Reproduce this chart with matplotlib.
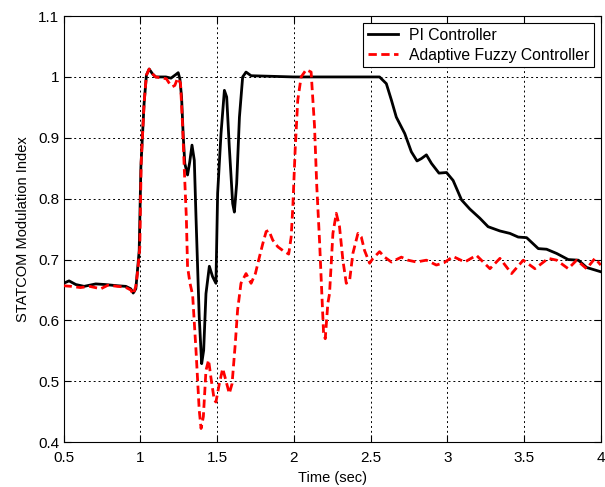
import matplotlib
matplotlib.use('Agg')
import matplotlib.pyplot as plt

plt.rcParams['font.family'] = ['Liberation Sans', 'DejaVu Sans']

# ----- data -----
t_pi = [0.5, 0.536, 0.58, 0.634, 0.71, 0.77, 0.851, 0.906, 0.938, 0.954,
        0.971, 0.982, 0.993, 1.004, 1.025, 1.04, 1.058, 1.08, 1.1, 1.167,
        1.2, 1.232, 1.247, 1.258, 1.269, 1.28, 1.29, 1.308, 1.322, 1.337,
        1.352, 1.363, 1.384, 1.40, 1.413, 1.428, 1.45, 1.471, 1.493, 1.504,
        1.526, 1.548, 1.563, 1.58, 1.602, 1.613, 1.628, 1.646, 1.667, 1.689,
        1.722, 2.0, 2.559, 2.603, 2.636, 2.668, 2.723, 2.766, 2.803, 2.832,
        2.864, 2.897, 2.946, 2.995, 3.038, 3.093, 3.147, 3.212, 3.266, 3.343,
        3.408, 3.462, 3.517, 3.593, 3.647, 3.713, 3.788, 3.854, 3.908, 4.0]
m_pi = [0.661, 0.665, 0.659, 0.656, 0.66, 0.659, 0.657, 0.656, 0.652, 0.645,
        0.652, 0.683, 0.715, 0.852, 0.957, 1.003, 1.013, 1.005, 1.0, 1.0,
        0.998, 1.004, 1.007, 0.997, 0.967, 0.902, 0.858, 0.839, 0.86, 0.888,
        0.863, 0.77, 0.606, 0.529, 0.551, 0.644, 0.689, 0.672, 0.661, 0.809,
        0.907, 0.978, 0.967, 0.885, 0.792, 0.778, 0.825, 0.934, 1.0, 1.008,
        1.002, 1.0, 1.0, 0.989, 0.962, 0.934, 0.907, 0.877, 0.862, 0.866,
        0.872, 0.858, 0.842, 0.843, 0.83, 0.798, 0.783, 0.768, 0.754, 0.747,
        0.743, 0.737, 0.736, 0.718, 0.717, 0.71, 0.70, 0.699, 0.687, 0.68]

t_fz = [0.5, 0.55, 0.61, 0.67, 0.743, 0.79, 0.85, 0.9, 0.938, 0.954,
        0.971, 0.985, 0.997, 1.006, 1.025, 1.04, 1.058, 1.08, 1.1, 1.17,
        1.193, 1.21, 1.225, 1.243, 1.262, 1.275, 1.287, 1.30, 1.308, 1.324,
        1.341, 1.363, 1.384, 1.396, 1.411, 1.428, 1.445, 1.461, 1.482, 1.493,
        1.515, 1.537, 1.554, 1.58, 1.598, 1.619, 1.634, 1.656, 1.689, 1.722,
        1.75, 1.776, 1.798, 1.82, 1.837, 1.863, 1.896, 1.928, 1.967, 1.983,
        1.994, 2.009, 2.026, 2.048, 2.081, 2.113, 2.135, 2.15, 2.168, 2.18,
        2.194, 2.205, 2.222, 2.233, 2.255, 2.277, 2.298, 2.32, 2.342, 2.364,
        2.385, 2.418, 2.44, 2.461, 2.494, 2.516, 2.559, 2.592, 2.636, 2.701,
        2.744, 2.799, 2.864, 2.929, 2.98, 3.038, 3.114, 3.19, 3.278, 3.343,
        3.419, 3.495, 3.571, 3.658, 3.713, 3.788, 3.843, 3.908, 3.962, 4.0]
m_fz = [0.657, 0.656, 0.654, 0.656, 0.652, 0.658, 0.656, 0.655, 0.65, 0.643,
        0.656, 0.685, 0.72, 0.86, 0.957, 1.003, 1.013, 1.005, 1.0, 0.997,
        0.988, 0.984, 0.986, 0.998, 0.99, 0.924, 0.847, 0.770, 0.688, 0.661,
        0.642, 0.551, 0.453, 0.4225, 0.442, 0.518, 0.535, 0.505, 0.469, 0.466,
        0.496, 0.521, 0.505, 0.48, 0.496, 0.562, 0.617, 0.661, 0.677, 0.661,
        0.677, 0.704, 0.726, 0.746, 0.748, 0.732, 0.721, 0.715, 0.709, 0.737,
        0.787, 0.880, 0.962, 1.0, 1.012, 1.008, 0.92, 0.82, 0.73, 0.66,
        0.58, 0.57, 0.628, 0.644, 0.743, 0.776, 0.754, 0.699, 0.661, 0.666,
        0.71, 0.743, 0.737, 0.715, 0.694, 0.702, 0.713, 0.704, 0.696, 0.704,
        0.699, 0.696, 0.699, 0.691, 0.695, 0.705, 0.696, 0.707, 0.685, 0.702,
        0.677, 0.699, 0.685, 0.702, 0.699, 0.685, 0.699, 0.685, 0.702, 0.691]

x_ticks = [0.5, 1, 1.5, 2, 2.5, 3, 3.5, 4]
x_labels = ['0.5', '1', '1.5', '2', '2.5', '3', '3.5', '4']
y_ticks = [0.4, 0.5, 0.6, 0.7, 0.8, 0.9, 1.0, 1.1]
y_labels = ['0.4', '0.5', '0.6', '0.7', '0.8', '0.9', '1', '1.1']

fig = plt.figure(figsize=(6.05, 4.87), dpi=100, facecolor='white')
ax = fig.add_axes([0.105, 0.092, 0.888, 0.875])

ax.plot(t_pi, m_pi, color='black', lw=2.0, label='PI Controller', zorder=3)
ax.plot(t_fz, m_fz, color='red', lw=2.0, ls=(0, (3, 1.6)),
        label='Adaptive Fuzzy Controller', zorder=4)

ax.set_xlim(0.5, 4)
ax.set_ylim(0.4, 1.1)
ax.set_xticks(x_ticks)
ax.set_xticklabels(x_labels)
ax.set_yticks(y_ticks)
ax.set_yticklabels(y_labels)
ax.tick_params(direction='in', top=True, right=True, length=5,
               labelsize=11, width=0.8)
ax.tick_params(axis='x', pad=6)
ax.tick_params(axis='y', pad=3)
ax.grid(True, color='black', ls=(0, (2, 3)), lw=0.7)
for s in ax.spines.values():
    s.set_linewidth(0.8)

ax.set_xlabel('Time (sec)', fontsize=10.5, labelpad=5)
ax.set_ylabel('STATCOM Modulation Index', fontsize=10.5, labelpad=6)

leg = ax.legend(loc='upper right', fontsize=11.3, fancybox=False,
                framealpha=1, edgecolor='black', borderpad=0.3,
                handlelength=1.9, handletextpad=0.7, labelspacing=0.3,
                borderaxespad=0.45)
leg.get_frame().set_linewidth(0.8)

fig.savefig('out.png', dpi=100, facecolor='white')
